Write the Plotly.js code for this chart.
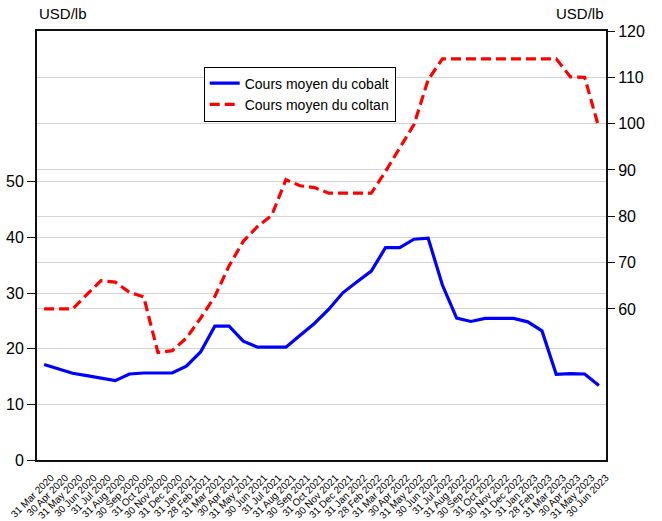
<!DOCTYPE html>
<html>
<head>
<meta charset="utf-8">
<script src="https://cdn.plot.ly/plotly-3.0.1.min.js"></script>
<style>
  html, body { margin: 0; padding: 0; background: #ffffff; }
  #chart { width: 662px; height: 521px; }
</style>
</head>
<body>
<div id="chart"></div>
<script>
// Monthly observation labels
const dateLabels = [
  "31 Mar 2020","30 Apr 2020","31 May 2020","30 Jun 2020","31 Jul 2020","31 Aug 2020",
  "30 Sep 2020","31 Oct 2020","30 Nov 2020","31 Dec 2020","31 Jan 2021","28 Feb 2021",
  "31 Mar 2021","30 Apr 2021","31 May 2021","30 Jun 2021","31 Jul 2021","31 Aug 2021",
  "30 Sep 2021","31 Oct 2021","30 Nov 2021","31 Dec 2021","31 Jan 2022","28 Feb 2022",
  "31 Mar 2022","30 Apr 2022","31 May 2022","30 Jun 2022","31 Jul 2022","31 Aug 2022",
  "30 Sep 2022","31 Oct 2022","30 Nov 2022","31 Dec 2022","31 Jan 2023","28 Feb 2023",
  "31 Mar 2023","30 Apr 2023","31 May 2023","30 Jun 2023"
];

// Cours moyen du cobalt (USD/lb, left axis)
const cobalt = [
  17.15, 16.36, 15.58, 15.17, 14.74, 14.27, 15.46, 15.64, 15.64, 15.64,
  16.85, 19.42, 24.05, 24.05, 21.35, 20.27, 20.27, 20.27, 22.43, 24.54,
  27.06, 30.05, 32.04, 33.96, 38.16, 38.16, 39.68, 39.85, 31.44, 25.50,
  24.90, 25.44, 25.44, 25.44, 24.83, 23.20, 15.40, 15.53, 15.46, 13.37
];

// Cours moyen du coltan (USD/lb, right axis)
const coltan = [
  60.0, 60.0, 60.0, 63.1, 66.1, 65.8, 63.6, 62.6, 50.6, 51.0,
  53.7, 58.0, 62.7, 69.3, 74.6, 77.8, 80.2, 87.9, 86.6, 86.2,
  85.0, 85.0, 85.0, 85.0, 89.7, 94.8, 99.8, 109.5, 114.0, 114.0,
  114.0, 114.0, 114.0, 114.0, 114.0, 114.0, 114.0, 110.1, 110.0, 99.1
];

const seriesNames = ["Cours moyen du cobalt", "Cours moyen du coltan"];
const leftTicks = [0, 10, 20, 30, 40, 50];
const rightTicks = [60, 70, 80, 90, 100, 110, 120];
const unitLabel = "USD/lb";

const idx = dateLabels.map((_, i) => i);
const xRange = [-0.5, dateLabels.length - 0.5];

const FONT = "'Liberation Sans', Arial, sans-serif";
const GRID = "#d4d4d4";

const traces = [
  {
    x: idx, y: cobalt, name: seriesNames[0], type: "scatter", mode: "lines",
    xaxis: "x", yaxis: "y",
    line: { color: "#0000ff", width: 3.2 }
  },
  {
    x: idx, y: coltan, name: seriesNames[1], type: "scatter", mode: "lines",
    xaxis: "x", yaxis: "y2",
    line: { color: "#ff0000", width: 3.2, dash: "10px,5px" }
  }
];

const layout = {
  width: 662, height: 521,
  margin: { l: 37, r: 56, t: 31, b: 61 },
  paper_bgcolor: "#ffffff",
  plot_bgcolor: "#ffffff",
  font: { family: FONT, color: "#000000", size: 15 },
  showlegend: true,
  legend: {
    x: 0.293, y: 0.917, xanchor: "left", yanchor: "top",
    bgcolor: "#ffffff", bordercolor: "#000000", borderwidth: 1,
    font: { family: FONT, size: 14, color: "#000000" },
    tracegroupgap: 0
  },
  xaxis: {
    type: "linear", range: xRange,
    tickmode: "array", tickvals: idx, ticktext: dateLabels,
    tickangle: -45, tickfont: { family: FONT, size: 10 },
    ticklabelshift: 7, ticklabelstandoff: 6,
    ticks: "", showgrid: false, zeroline: false,
    showline: true, linecolor: "#111111", linewidth: 2, mirror: true
  },
  xaxis2: {
    type: "linear", range: xRange, overlaying: "x", anchor: "y", side: "bottom",
    tickmode: "linear", tick0: -0.5, dtick: 2,
    ticks: "outside", ticklen: 9, tickwidth: 1, tickcolor: "#111111",
    showticklabels: false, showgrid: true, gridcolor: GRID, gridwidth: 1,
    zeroline: false, showline: false,
    minor: { tick0: -0.5, dtick: 1, ticks: "outside", ticklen: 9, tickwidth: 1,
             tickcolor: "#111111", showgrid: false }
  },
  yaxis: {
    range: [0, 77.1], tickmode: "array", tickvals: leftTicks,
    ticks: "outside", ticklen: 8, tickwidth: 1, tickcolor: "#111111",
    tickfont: { family: FONT, size: 16 },
    showgrid: true, gridcolor: GRID, gridwidth: 1, zeroline: false,
    showline: true, linecolor: "#111111", linewidth: 2
  },
  yaxis2: {
    range: [27.4, 120], overlaying: "y", side: "right", anchor: "x",
    tickmode: "array", tickvals: rightTicks,
    ticks: "outside", ticklen: 7, tickwidth: 1, tickcolor: "#111111",
    tickfont: { family: FONT, size: 16 },
    showgrid: true, gridcolor: GRID, gridwidth: 1, zeroline: false,
    showline: true, linecolor: "#111111", linewidth: 2
  },
  annotations: [
    { text: unitLabel, xref: "paper", yref: "paper", x: 0, y: 1.04,
      xanchor: "left", yanchor: "middle", showarrow: false,
      font: { family: FONT, size: 15 } },
    { text: unitLabel, xref: "paper", yref: "paper", x: 1, y: 1.04,
      xanchor: "right", yanchor: "middle", showarrow: false,
      font: { family: FONT, size: 15 } }
  ]
};

Plotly.newPlot("chart", traces, layout, { displayModeBar: false, staticPlot: true });
</script>
</body>
</html>
